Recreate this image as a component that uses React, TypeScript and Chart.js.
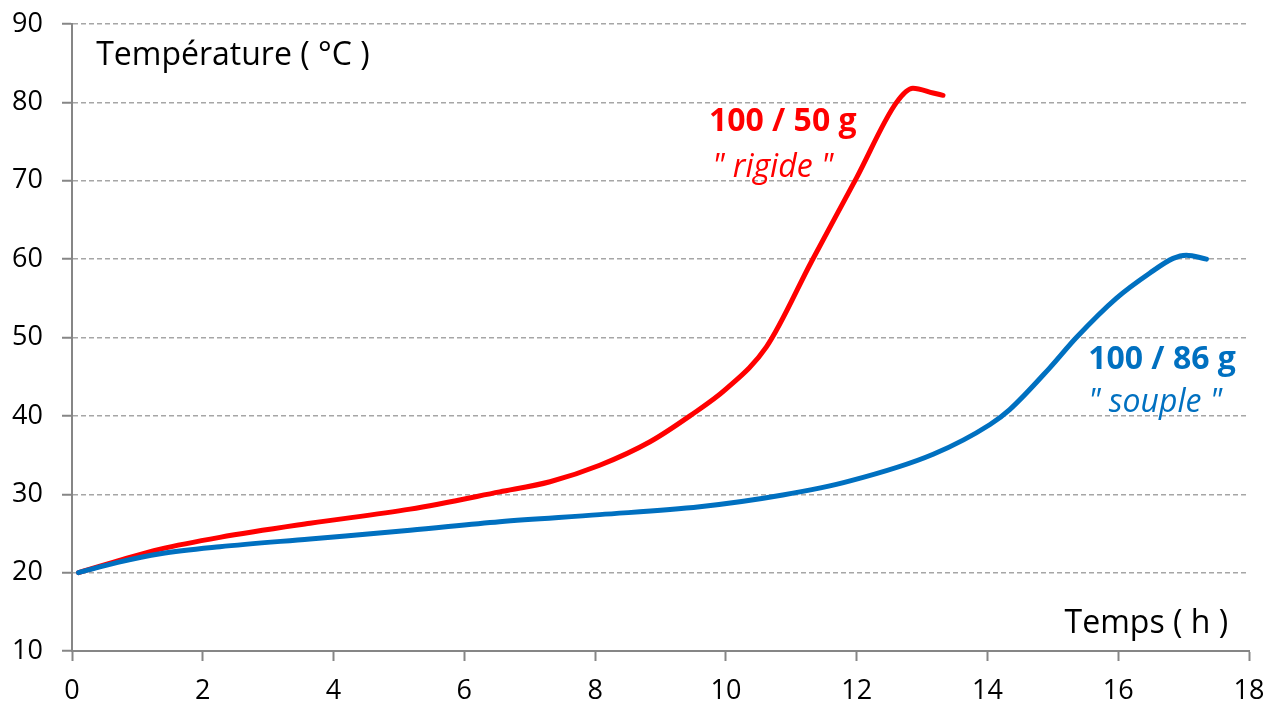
import React, { useEffect, useRef } from "react";
import { Chart, registerables } from "chart.js";

Chart.register(...registerables);

// ---- Data ----
const rigideHours = [0.1, 0.7, 1.35, 2.26, 3.64, 5.17, 6.54, 7.31, 8.07, 8.84, 9.45, 10.0, 10.62, 11.31, 12.0, 12.61, 12.86, 13.17, 13.32];
const rigideTemps = [20, 21.5, 23.0, 24.5, 26.3, 28.1, 30.3, 31.6, 33.7, 36.7, 40, 43.4, 48.8, 59.7, 70.4, 80, 81.8, 81.2, 80.9];

const soupleHours = [0.1, 0.7, 1.35, 2.26, 3.64, 5.17, 6.54, 8.07, 9.6, 10.87, 11.9, 13.17, 14.04, 14.34, 14.95, 15.36, 15.97, 16.48, 16.84, 17.04, 17.35];
const soupleTemps = [20, 21.3, 22.4, 23.3, 24.3, 25.4, 26.5, 27.4, 28.4, 29.9, 31.7, 35.1, 38.9, 40.8, 46.1, 50, 55, 58.2, 60.1, 60.5, 60.0];

const xTickMin = 0;
const xTickMax = 18;
const xTickStep = 2;
const yTickMin = 10;
const yTickMax = 90;
const yTickStep = 10;

const yAxisTitle = "Température ( °C )";
const xAxisTitle = "Temps ( h )";
const rigideLabel = "100 / 50 g";
const rigideNote = "\" rigide \"";
const soupleLabel = "100 / 86 g";
const soupleNote = "\" souple \"";

const RED = "#FF0000";
const BLUE = "#0070C0";
const FONT = "'Open Sans', sans-serif";

const toPoints = (xs: number[], ys: number[]) => xs.map((x, i) => ({ x, y: ys[i] }));

const textPlugin = {
  id: "textLabels",
  afterDatasetsDraw(chart: any) {
    const { ctx, scales } = chart;
    const xs = scales.x;
    const ys = scales.y;
    const items = [
      { t: yAxisTitle, x: 0.37, y: 85.9, color: "#000", font: `32px ${FONT}`, align: "left" },
      { t: xAxisTitle, x: 17.68, y: 13.4, color: "#000", font: `32px ${FONT}`, align: "right" },
      { t: rigideLabel, x: 9.74, y: 77.5, color: RED, font: `bold 32px ${FONT}`, align: "left" },
      { t: rigideNote, x: 9.79, y: 71.7, color: RED, font: `italic 32px ${FONT}`, align: "left" },
      { t: soupleLabel, x: 15.54, y: 47.2, color: BLUE, font: `bold 32px ${FONT}`, align: "left" },
      { t: soupleNote, x: 15.54, y: 41.7, color: BLUE, font: `italic 32px ${FONT}`, align: "left" },
    ];
    ctx.save();
    ctx.textBaseline = "middle";
    for (const it of items) {
      ctx.font = it.font;
      ctx.fillStyle = it.color;
      ctx.textAlign = it.align;
      ctx.fillText(it.t, xs.getPixelForValue(it.x), ys.getPixelForValue(it.y));
    }
    ctx.restore();
  },
};

export default function App() {
  const canvasRef = useRef<HTMLCanvasElement | null>(null);

  useEffect(() => {
    if (!canvasRef.current) return;
    const chart = new Chart(canvasRef.current, {
      type: "line",
      data: {
        datasets: [
          {
            label: "100 / 86 g souple",
            data: toPoints(soupleHours, soupleTemps),
            borderColor: BLUE,
            backgroundColor: BLUE,
            borderWidth: 5,
            pointRadius: 0,
            cubicInterpolationMode: "monotone",
            borderCapStyle: "round",
            borderJoinStyle: "round",
          },
          {
            label: "100 / 50 g rigide",
            data: toPoints(rigideHours, rigideTemps),
            borderColor: RED,
            backgroundColor: RED,
            borderWidth: 5,
            pointRadius: 0,
            cubicInterpolationMode: "monotone",
            borderCapStyle: "round",
            borderJoinStyle: "round",
          },
        ],
      },
      options: {
        responsive: false,
        animation: false,
        devicePixelRatio: 1,
        layout: { padding: { top: 24, right: 20, bottom: 0, left: 0 } },
        plugins: {
          legend: { display: false },
          tooltip: { enabled: false },
        },
        scales: {
          x: {
            type: "linear",
            min: xTickMin,
            max: xTickMax,
            afterFit: (s: any) => {
              s.height = 53;
              s.paddingLeft = 0;
              s.paddingRight = 0;
              s.paddingTop = 0;
              s.paddingBottom = 0;
            },
            ticks: {
              stepSize: xTickStep,
              color: "#000",
              font: { family: FONT, size: 27 },
              padding: 14,
              maxRotation: 0,
            },
            grid: {
              drawOnChartArea: false,
              tickLength: 10,
              tickColor: "#868686",
              tickWidth: 2,
            },
            border: { display: true, color: "#868686", width: 2 },
          },
          y: {
            type: "linear",
            min: yTickMin,
            max: yTickMax,
            afterFit: (s: any) => {
              s.width = 72;
              s.paddingLeft = 0;
              s.paddingRight = 0;
              s.paddingTop = 0;
              s.paddingBottom = 0;
            },
            ticks: {
              stepSize: yTickStep,
              color: "#000",
              font: { family: FONT, size: 27 },
              padding: 19,
            },
            grid: {
              color: "#A6A6A6",
              lineWidth: 1.5,
              tickLength: 10,
              tickColor: "#868686",
              tickWidth: 2,
              tickBorderDash: [],
            },
            border: { display: true, color: "#868686", width: 2, dash: [5, 3] },
          },
        },
      },
      plugins: [textPlugin],
    } as any);
    return () => chart.destroy();
  }, []);

  return (
    <div style={{ position: "absolute", left: 0, top: 0, width: 1269, height: 704, background: "#fff" }}>
      <canvas ref={canvasRef} width={1269} height={704} style={{ display: "block" }} />
    </div>
  );
}
